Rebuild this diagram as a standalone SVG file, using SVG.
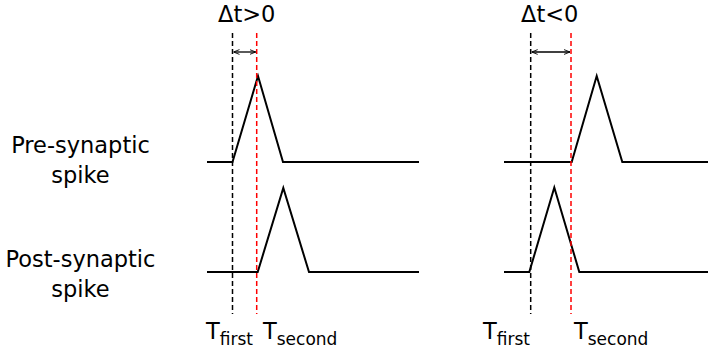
<svg xmlns="http://www.w3.org/2000/svg" width="708" height="355" viewBox="0 0 708 355">
<style>
text{font-family:"DejaVu Sans",Verdana,sans-serif;fill:#000}
.lbl{font-size:22.5px}
.sub{font-size:17px}
.sig{fill:none;stroke:#000;stroke-width:2;stroke-linejoin:miter}
.blk{stroke:#000;stroke-width:1.5;stroke-dasharray:5,3}
.red{stroke:#ff0000;stroke-width:1.5;stroke-dasharray:5,3}
.arr{stroke:#000;stroke-width:1.3;marker-start:url(#ah);marker-end:url(#ah)}
</style>
<defs>
<marker id="ah" viewBox="0 0 10 10" refX="10" refY="5" markerWidth="6" markerHeight="6" orient="auto-start-reverse" markerUnits="userSpaceOnUse">
<path d="M0,1 L10,5 L0,9" fill="none" stroke="#000" stroke-width="1.5"/>
</marker>
</defs>
<g id="labels">
<text class="lbl" x="80.5" y="153" text-anchor="middle">Pre-synaptic</text>
<text class="lbl" x="80.5" y="183" text-anchor="middle">spike</text>
<text class="lbl" x="80.5" y="267" text-anchor="middle">Post-synaptic</text>
<text class="lbl" x="80.5" y="297" text-anchor="middle">spike</text>
</g>
<g id="left-panel">
<text class="lbl" x="218" y="22">Δt&gt;0</text>
<polyline class="sig" points="207,162 232.5,162 258,76 283,162 419,162"/>
<polyline class="sig" points="207,272 257.7,272 283.3,188 309,272 419,272"/>
<text class="lbl" x="206" y="339">T<tspan class="sub" dy="6">first</tspan></text>
<text class="lbl" x="263" y="339">T<tspan class="sub" dy="6">second</tspan></text>
</g>
<g id="right-panel">
<text class="lbl" x="521" y="22">Δt&lt;0</text>
<polyline class="sig" points="504,162 571.7,162 596.7,76 622.3,162 708,162"/>
<polyline class="sig" points="504,272 529.3,272 554.3,187.5 579.3,272 708,272"/>
<text class="lbl" x="483" y="339">T<tspan class="sub" dy="6">first</tspan></text>
<text class="lbl" x="574" y="339">T<tspan class="sub" dy="6">second</tspan></text>
</g>
<g id="connectors">
<line class="blk" x1="232.5" y1="33" x2="232.5" y2="314"/>
<line class="red" x1="256.7" y1="33" x2="256.7" y2="314"/>
<line class="arr" x1="233.5" y1="52" x2="255.7" y2="52"/>
<line class="blk" x1="530.7" y1="33" x2="530.7" y2="314"/>
<line class="red" x1="571" y1="33" x2="571" y2="314"/>
<line class="arr" x1="531.7" y1="52" x2="570" y2="52"/>
</g>
</svg>
